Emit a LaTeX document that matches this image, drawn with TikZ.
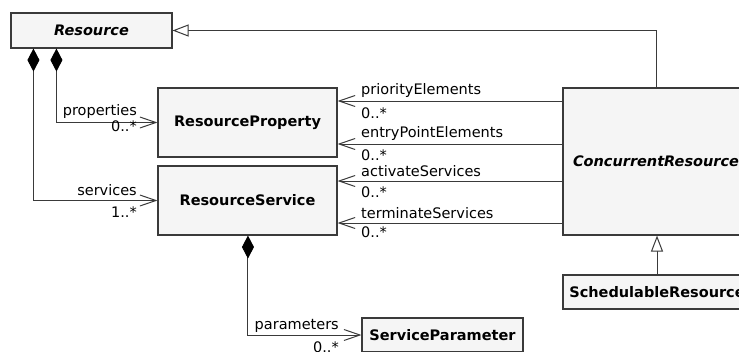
\documentclass[tikz,border=0pt]{standalone}
\usepackage{fontspec}
\setmainfont{DejaVu Sans}
\usetikzlibrary{arrows.meta,calc}
\definecolor{boxfill}{HTML}{F5F5F5}
\definecolor{linec}{HTML}{3A3A3A}
\tikzset{
  cls/.style={draw=linec, line width=1.1pt, fill=boxfill, inner sep=0pt, font=\fontsize{14.5}{16}\selectfont\bfseries},
  abs/.style={cls, font=\fontsize{14.5}{16}\selectfont\bfseries\itshape},
  lbl/.style={inner sep=0pt, font=\fontsize{14.5}{16}\selectfont, text=black},
  conn/.style={draw=linec, line width=1pt},
  nav/.style={conn, -{Straight Barb[length=16pt, width=11pt]}},
  comp/.style={conn, {Diamond[length=23pt, width=12pt, color=black]}-{Straight Barb[length=16pt, width=11pt]}},
  gen/.style={conn, -{Triangle[open, length=16pt, width=12pt, fill=white]}},
}
\begin{document}
\begin{tikzpicture}[x=1pt, y=-1pt]
\useasboundingbox (0,0) rectangle (739,351);
% classes
\node[abs, minimum width=161pt, minimum height=35pt] (res) at (91.5,30.5) {Resource};
\node[cls, minimum width=179pt, minimum height=69pt] (rp) at (247.5,122.5) {ResourceProperty};
\node[cls, minimum width=179pt, minimum height=69pt] (rs) at (247.5,200.5) {ResourceService};
\node[abs, minimum width=186pt, minimum height=147pt] (cr) at (656,161.5) {ConcurrentResource};
\node[cls, minimum width=188pt, minimum height=34pt] (sr) at (657,292) {SchedulableResource};
\node[cls, minimum width=161pt, minimum height=34pt] (sp) at (442.5,335) {ServiceParameter};
% generalizations
\draw[gen] (cr.north) |- (res.east);
\draw[gen] (sr.north) -- (sr.north |- cr.south);
% compositions
\draw[comp] ($(res.south west)+(46,0)$) |- (rp.west);
\draw[comp] ($(res.south west)+(23,0)$) |- (rs.west);
\draw[comp] ($(rs.south west)+(90.5,0)$) |- (sp.west);
% navigations from ConcurrentResource
\draw[nav] (cr.west |- {0,101}) -- (rp.east |- {0,101});
\draw[nav] (cr.west |- {0,144}) -- (rp.east |- {0,144});
\draw[nav] (cr.west |- {0,181}) -- (rs.east |- {0,181});
\draw[nav] (cr.west |- {0,223}) -- (rs.east |- {0,223});
% labels
\node[lbl, anchor=base east] (lprop) at (137,115) {properties};
\node[lbl, anchor=base east] (mprop) at (137,131) {0..*};
\node[lbl, anchor=base east] (lserv) at (137,195) {services};
\node[lbl, anchor=base east] (mserv) at (137,217) {1..*};
\node[lbl, anchor=base east] (lpar) at (339,329) {parameters};
\node[lbl, anchor=base east] (mpar) at (339,352) {0..*};
\node[lbl, anchor=base west] (lpri) at (361,94) {priorityElements};
\node[lbl, anchor=base west] (mpri) at (361,118) {0..*};
\node[lbl, anchor=base west] (lent) at (361,137) {entryPointElements};
\node[lbl, anchor=base west] (ment) at (361,160) {0..*};
\node[lbl, anchor=base west] (lact) at (361,176) {activateServices};
\node[lbl, anchor=base west] (mact) at (361,197) {0..*};
\node[lbl, anchor=base west] (lter) at (361,218) {terminateServices};
\node[lbl, anchor=base west] (mter) at (361,237) {0..*};
\end{tikzpicture}
\end{document}
